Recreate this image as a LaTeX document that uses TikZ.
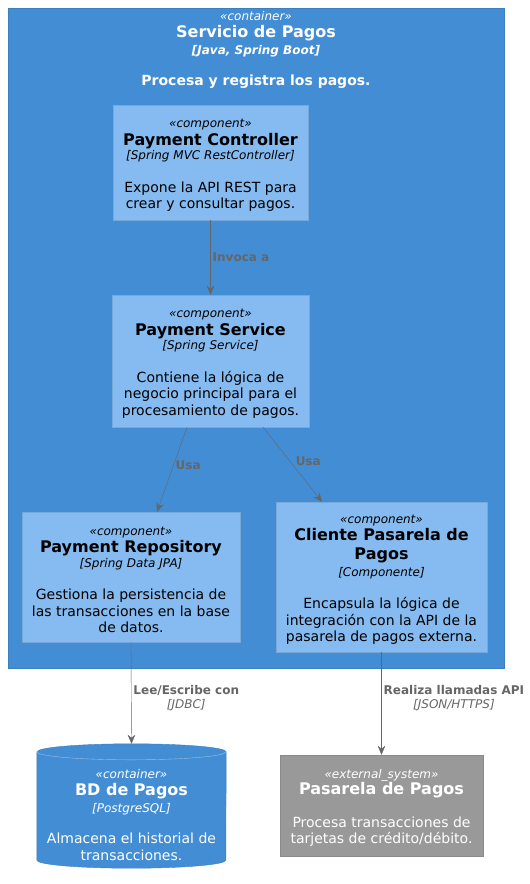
\documentclass[tikz,border=0pt]{standalone}
\usepackage{fontspec}
\setmainfont{DejaVu Sans}
\usetikzlibrary{arrows.meta,calc}

\definecolor{contfill}{HTML}{438DD5}
\definecolor{contline}{HTML}{3C7FC0}
\definecolor{compfill}{HTML}{85BBF0}
\definecolor{compline}{HTML}{78A8D8}
\definecolor{extfill}{HTML}{999999}
\definecolor{extline}{HTML}{8A8A8A}
\definecolor{relgray}{HTML}{666666}

\newcommand\stereo[1]{{\fontsize{12}{14}\selectfont\mdseries\itshape «#1»}}
\newcommand\cstereo[1]{\rule{0pt}{14pt}\stereo{#1}}
\newcommand\ctitle[1]{{\fontsize{16}{18}\selectfont\bfseries #1}}
\newcommand\ctech[1]{{\fontsize{12}{14}\selectfont\itshape [#1]}}

\begin{document}
\begin{tikzpicture}[x=1pt,y=-1pt,
    contbox/.style={draw=contline, fill=contfill},
    comp/.style={draw=compline, fill=compfill, align=center, text=black,
        font=\fontsize{14}{16.5}\selectfont},
    dbtext/.style={align=center, text=white, inner sep=0pt,
        font=\fontsize{14}{17}\selectfont},
    extbox/.style={draw=extline, fill=extfill, align=center, text=white,
        font=\fontsize{14}{16.5}\selectfont},
    rel/.style={draw=relgray, -{Stealth[length=9pt,width=7.5pt]}},
    rellbl/.style={text=relgray, font=\fontsize{12}{14}\selectfont\bfseries,
        align=center, inner sep=2pt}]
\fill[white] (0,0) rectangle (530,884);
\useasboundingbox (0,0) rectangle (530,884);

% container boundary
\node[contbox, minimum width=496pt, minimum height=660pt] (svc) at (256,338) {};
\node[anchor=north, align=center, text=white, inner sep=0pt,
    font=\fontsize{14}{17}\selectfont\bfseries] (svclbl) at (256,11.5)
    {\stereo{container}\\ \ctitle{Servicio de Pagos}\\ {\fontsize{12}{14}\selectfont\itshape [Java, Spring Boot]}\\[14pt]
     Procesa y registra los pagos.};

% components
\node[comp, minimum width=195pt, minimum height=115pt] (ctrl) at (210.5,162.5)
    {\cstereo{component}\\[1pt] \ctitle{Payment Controller}\\[-2pt] \ctech{Spring MVC RestController}\\[16pt]
     Expone la API REST para\\ crear y consultar pagos.};
\node[comp, minimum width=197pt, minimum height=132pt] (srv) at (210.5,361)
    {\cstereo{component}\\[1pt] \ctitle{Payment Service}\\[-2pt] \ctech{Spring Service}\\[16pt]
     Contiene la lógica de\\ negocio principal para el\\ procesamiento de pagos.};
\node[comp, minimum width=218pt, minimum height=130pt] (repo) at (131,577)
    {\cstereo{component}\\[1pt] \ctitle{Payment Repository}\\[-2pt] \ctech{Spring Data JPA}\\[16pt]
     Gestiona la persistencia de\\ las transacciones en la base\\ de datos.};
\node[comp, minimum width=211pt, minimum height=150pt] (cli) at (381.5,577)
    {\cstereo{component}\\[1pt] \ctitle{Cliente Pasarela de}\\[2pt] \ctitle{Pagos}\\[0.5pt] \ctech{Componente}\\[16pt]
     Encapsula la lógica de\\ integración con la API de la\\ pasarela de pagos externa.};

% outside: database drawn as cylinder round node db
\node[minimum width=189pt, minimum height=124pt, inner sep=0pt] (db) at (131.5,806) {};
\filldraw[draw=contline, fill=contfill] ($(db.north west)+(0,8)$) -- ($(db.south west)+(0,-8)$)
    arc[start angle=180, end angle=0, x radius=94.5, y radius=8]
    -- ($(db.north east)+(0,8)$)
    arc[start angle=0, end angle=-180, x radius=94.5, y radius=8] -- cycle;
\draw[contline!50!white] ($(db.north west)+(0,8)$) arc[start angle=180, end angle=0, x radius=94.5, y radius=8];
\node[dbtext] (dblbl) at (131.5,815)
    {\stereo{container}\\ \ctitle{BD de Pagos}\\ \ctech{PostgreSQL}\\[14pt]
     Almacena el historial de\\ transacciones.};
\node[extbox, minimum width=203pt, minimum height=101pt] (ext) at (381.5,805.5)
    {\cstereo{external\_system}\\ \ctitle{Pasarela de Pagos}\\[16pt]
     Procesa transacciones de\\ tarjetas de crédito/débito.};

% relations
\draw[rel] (ctrl.south) -- node[rellbl, anchor=west] {Invoca a} (srv.north);
\draw[rel] ([xshift=-23.5pt]srv.south) -- node[rellbl, anchor=west, pos=0.45] {Usa} ([xshift=26pt]repo.north);
\draw[rel] ([xshift=52.5pt]srv.south) -- node[rellbl, anchor=west, pos=0.45, xshift=4pt] {Usa} ([xshift=-59.5pt]cli.north);
\draw[rel] (repo.south) -- node[rellbl, anchor=west, pos=0.55] {Lee/Escribe con\\ {\mdseries\itshape [JDBC]}} (db.north);
\draw[rel] (cli.south) -- node[rellbl, anchor=west, pos=0.45] {Realiza llamadas API\\ {\mdseries\itshape [JSON/HTTPS]}} (ext.north);
\end{tikzpicture}
\end{document}
